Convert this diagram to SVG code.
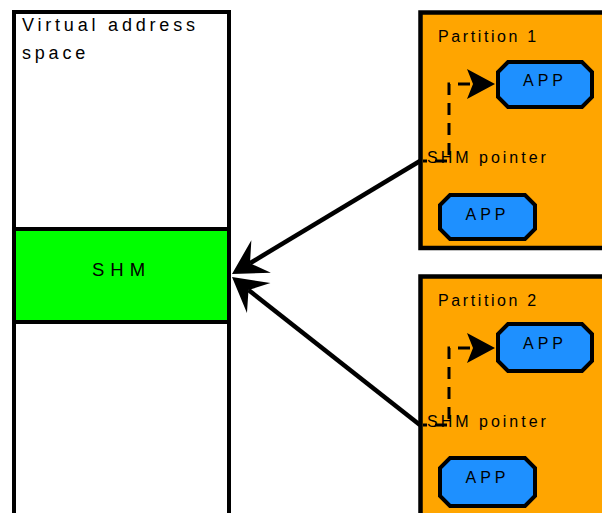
<svg xmlns="http://www.w3.org/2000/svg" width="602" height="513" viewBox="0 0 602 513">
  <style>
    text { font-family: "Liberation Sans", Arial, sans-serif; fill: #000; }
    .box { stroke: #000; stroke-width: 4; }
    .space { fill: #fff; }
    .shm { fill: #00ff00; }
    .part { fill: #ffa500; stroke: #000; stroke-width: 4.5; }
    .app { fill: #1e90ff; stroke: #000; stroke-width: 4; stroke-linejoin: miter; }
    .lbl { font-size: 16px; letter-spacing: 3px; }
    .applbl { font-size: 16px; letter-spacing: 4px; text-anchor: middle; }
    .link { fill: none; stroke: #000; stroke-width: 4.5; }
    .ptr { fill: none; stroke: #000; stroke-width: 3; stroke-dasharray: 12 8; stroke-dashoffset: 8; }
  </style>
  <defs>
    <!-- stealth heads; path end sits at the notch, tip extends forward -->
    <marker id="headBig" markerUnits="userSpaceOnUse" orient="auto" refX="0" refY="0" overflow="visible">
      <path d="M21,0 L-13,-19 L0,0 L-13,19 Z" fill="#000"/>
    </marker>
    <marker id="headSmall" markerUnits="userSpaceOnUse" orient="auto" refX="0" refY="0" overflow="visible">
      <path d="M22,0 L-6,-15 L0,0 L-6,15 Z" fill="#000"/>
    </marker>
  </defs>

  <!-- virtual address space column -->
  <g id="vaspace">
    <rect class="box space" x="14" y="12" width="215" height="520"/>
    <text x="22" y="31" style="font-size:18px;letter-spacing:3.8px">Virtual address</text>
    <text x="22" y="59" style="font-size:18px;letter-spacing:3.8px">space</text>
  </g>

  <!-- shared memory region -->
  <g id="shm">
    <rect class="box shm" x="14" y="229" width="215" height="93"/>
    <text x="121.5" y="276" text-anchor="middle" style="font-size:18.5px;letter-spacing:6px">SHM</text>
  </g>

  <!-- partition 1 -->
  <g id="partition1">
    <rect class="part" x="420.5" y="12.5" width="200" height="235.5"/>
    <text class="lbl" x="438" y="42" style="letter-spacing:2.6px">Partition 1</text>
    <text class="lbl" x="427" y="162.5">SHM pointer</text>
    <g id="p1app1">
      <polygon class="app" points="508,62 582,62 592,72 592,97 582,107 508,107 498,97 498,72"/>
      <text class="applbl" x="545" y="86">APP</text>
    </g>
    <g id="p1app2">
      <polygon class="app" points="450,195 525,195 535,205 535,229 525,239 450,239 440,229 440,205"/>
      <text class="applbl" x="487.5" y="220">APP</text>
    </g>
  </g>

  <!-- partition 2 -->
  <g id="partition2" transform="translate(0,264)">
    <rect class="part" x="420.5" y="12.5" width="200" height="260"/>
    <text class="lbl" x="438" y="42" style="letter-spacing:2.6px">Partition 2</text>
    <text class="lbl" x="427" y="162.5">SHM pointer</text>
    <g id="p2app1">
      <polygon class="app" points="508,60 582,60 592,70 592,97 582,107 508,107 498,97 498,70"/>
      <text class="applbl" x="545" y="85">APP</text>
    </g>
    <g id="p2app2">
      <polygon class="app" points="450,194 525,194 535,204 535,232 525,242 450,242 440,232 440,204"/>
      <text class="applbl" x="487.5" y="219">APP</text>
    </g>
  </g>

  <!-- connectors -->
  <g id="connectors">
    <path class="link" d="M420,161 L250,263.2" marker-end="url(#headBig)"/>
    <path class="link" d="M420,425 L248.5,290" marker-end="url(#headBig)"/>
    <path class="ptr" d="M423,161 H449 V84 H473" marker-end="url(#headSmall)"/>
    <path class="ptr" d="M423,425 H449 V348 H473" marker-end="url(#headSmall)"/>
  </g>
</svg>
